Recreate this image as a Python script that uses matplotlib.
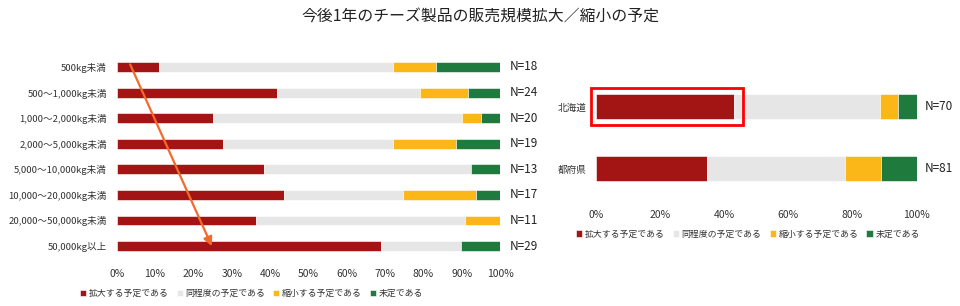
import numpy as np
import matplotlib.pyplot as plt
from matplotlib.patches import Rectangle

# 日本語フォント
plt.rcParams['font.family'] = ['Noto Sans CJK JP', 'DejaVu Sans']

# 左：年間販売量別
sizes = ['500kg未満', '500～1,000kg未満', '1,000～2,000kg未満', '2,000～5,000kg未満',
         '5,000～10,000kg未満', '10,000～20,000kg未満', '20,000～50,000kg未満', '50,000kg以上']
size_expand = [11.1, 41.7, 25.0, 27.6, 38.5, 43.6, 36.4, 69.0]
size_same = [61.1, 37.5, 65.0, 44.4, 53.8, 31.2, 54.5, 20.7]
size_shrink = [11.1, 12.5, 5.0, 16.6, 0.0, 18.8, 9.1, 0.0]
size_undecided = [16.7, 8.3, 5.0, 11.4, 7.7, 6.4, 0.0, 10.3]
size_n = [18, 24, 20, 19, 13, 17, 11, 29]

# 右：地域別
regions = ['北海道', '都府県']
region_expand = [42.9, 34.6]
region_same = [45.7, 43.2]
region_shrink = [5.7, 11.1]
region_undecided = [5.7, 11.1]
region_n = [70, 81]

series_names = ['拡大する予定である', '同程度の予定である', '縮小する予定である', '未定である']
colors = ['#A31515', '#E6E6E6', '#FBB718', '#1F7A3D']


def draw_stacked(ax, labels, series, ns, height, xticks):
    y = np.arange(len(labels))
    left = np.zeros(len(labels))
    for vals, name, c in zip(series, series_names, colors):
        ax.barh(y, vals, left=left, height=height, color=c, label=name,
                edgecolor='white', linewidth=0.4)
        left += np.array(vals)
    for yi, n in zip(y, ns):
        ax.text(102.5, yi, f'N={n}', va='center', ha='left', fontsize=8.5, color='#222222')
    ax.set_yticks(y)
    ax.set_yticklabels(labels, fontsize=6.9, color='#333333')
    ax.set_xlim(0, 100)
    ax.set_ylim(len(labels) - 0.5, -0.5)
    ax.set_xticks(xticks)
    ax.set_xticklabels([f'{v}%' for v in xticks], fontsize=7.5, color='#333333')
    ax.tick_params(length=0, axis='y', pad=7)
    ax.tick_params(length=0, axis='x', pad=7)
    for s in ax.spines.values():
        s.set_visible(False)
    return y


fig = plt.figure(figsize=(9.6, 3.06), dpi=100)

ax1 = fig.add_axes([0.1216, 0.154, 0.3993, 0.669])
draw_stacked(ax1, sizes, [size_expand, size_same, size_shrink, size_undecided],
             size_n, 0.39, list(range(0, 101, 10)))

ax2 = fig.add_axes([0.6208, 0.347, 0.334, 0.405])
y2 = draw_stacked(ax2, regions, [region_expand, region_same, region_shrink, region_undecided],
                  region_n, 0.40, list(range(0, 101, 20)))

# 北海道の拡大を強調
ax2.add_patch(Rectangle((-1.5, y2[0] - 0.3), region_expand[0] + 4.5, 0.6,
                        fill=False, edgecolor='#FF0000', linewidth=2, clip_on=False))

# 規模が大きいほど拡大傾向
ax1.annotate('', xy=(24.8, 7), xytext=(3.5, -0.1),
             arrowprops=dict(arrowstyle='-|>', color='#F26B2A', lw=1.6,
                             mutation_scale=13, shrinkA=0, shrinkB=0))

fig.suptitle('今後1年のチーズ製品の販売規模拡大／縮小の予定', y=0.975, fontsize=11.4, color='#222222')

for ax, cx, cy in [(ax1, 0.262, 0.04), (ax2, 0.779, 0.235)]:
    ax.legend(loc='center', bbox_to_anchor=(cx, cy), bbox_transform=fig.transFigure,
              ncol=4, frameon=False, fontsize=6.4, handlelength=0.7, handleheight=0.7,
              handletextpad=0.3, columnspacing=0.9, labelcolor='#333333')

fig.savefig('out.png', dpi=100)
